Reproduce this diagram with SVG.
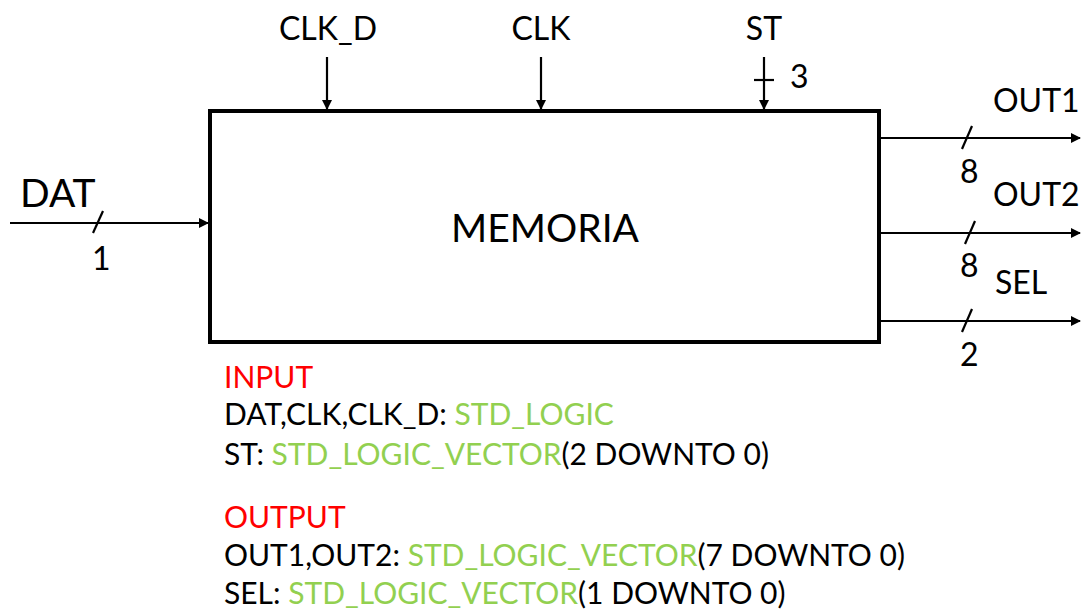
<svg xmlns="http://www.w3.org/2000/svg" width="1086" height="610" viewBox="0 0 1086 610">
<style>
text{font-family:Lato,"Open Sans","Liberation Sans",sans-serif;fill:#000}
.lbl{font-size:32px}
.leg{font-size:30px}
.big{font-size:39px}
.g{fill:#92D050}
.r{fill:#FF0000}
.w{stroke:#000;stroke-width:2.2;fill:none}
</style>
<defs>
<marker id="ah" markerWidth="10" markerHeight="10" refX="9" refY="5" orient="auto" markerUnits="userSpaceOnUse">
<path d="M0,0 L10,5 L0,10 Z" fill="#000"/>
</marker>
</defs>
<rect width="1086" height="610" fill="#fff"/>
<g id="memoria">
<rect x="210" y="111" width="669" height="231" fill="#fff" stroke="#000" stroke-width="4"/>
<text class="big" x="545" y="242" text-anchor="middle">MEMORIA</text>
</g>
<g id="connectors">
<line class="w" x1="10" y1="223" x2="208" y2="223" marker-end="url(#ah)"/>
<line class="w" x1="93" y1="233" x2="103" y2="211"/>
<line class="w" x1="327" y1="57" x2="327" y2="109" marker-end="url(#ah)"/>
<line class="w" x1="541" y1="57" x2="541" y2="109" marker-end="url(#ah)"/>
<line class="w" x1="764" y1="57" x2="764" y2="109" marker-end="url(#ah)"/>
<line class="w" x1="754" y1="80" x2="774" y2="80"/>
<line class="w" x1="881" y1="138" x2="1080" y2="138" marker-end="url(#ah)"/>
<line class="w" x1="962" y1="149" x2="972" y2="126"/>
<line class="w" x1="881" y1="233" x2="1080" y2="233" marker-end="url(#ah)"/>
<line class="w" x1="965" y1="244" x2="975" y2="221"/>
<line class="w" x1="881" y1="321" x2="1080" y2="321" marker-end="url(#ah)"/>
<line class="w" x1="962" y1="332" x2="972" y2="309"/>
</g>
<g id="labels">
<text class="big" x="20" y="207">DAT</text>
<text class="lbl" x="92" y="270">1</text>
<text class="lbl" x="328" y="40" text-anchor="middle">CLK_D</text>
<text class="lbl" x="541" y="40" text-anchor="middle">CLK</text>
<text class="lbl" x="764" y="40" text-anchor="middle">ST</text>
<text class="lbl" x="790" y="88">3</text>
<text class="lbl" x="993" y="112">OUT1</text>
<text class="lbl" x="960" y="183">8</text>
<text class="lbl" x="993" y="206">OUT2</text>
<text class="lbl" x="960" y="277">8</text>
<text class="lbl" x="995" y="294">SEL</text>
<text class="lbl" x="960" y="366">2</text>
</g>
<g id="legend">
<text class="leg r" x="224" y="388">INPUT</text>
<text class="leg" x="224" y="425">DAT,CLK,CLK_D: <tspan class="g">STD_LOGIC</tspan></text>
<text class="leg" x="224" y="465">ST: <tspan class="g">STD_LOGIC_VECTOR</tspan>(2 DOWNTO 0)</text>
<text class="leg r" x="224" y="528">OUTPUT</text>
<text class="leg" x="224" y="566">OUT1,OUT2: <tspan class="g">STD_LOGIC_VECTOR</tspan>(7 DOWNTO 0)</text>
<text class="leg" x="224" y="604">SEL: <tspan class="g">STD_LOGIC_VECTOR</tspan>(1 DOWNTO 0)</text>
</g>
</svg>
